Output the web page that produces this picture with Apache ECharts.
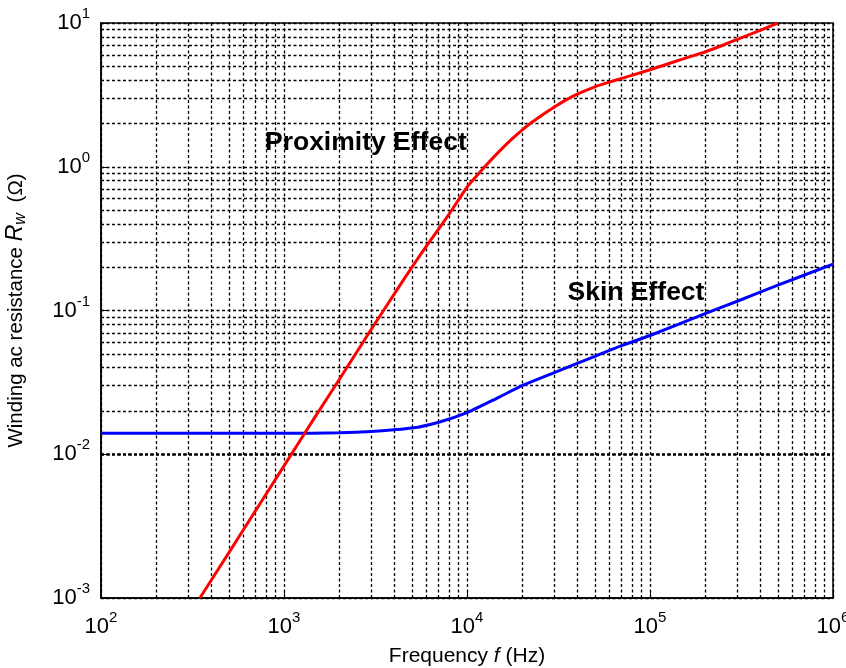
<!DOCTYPE html>
<html>
<head>
<meta charset="utf-8">
<script src="https://cdn.jsdelivr.net/npm/echarts@6/dist/echarts.min.js"></script>
<style>
html, body { margin: 0; padding: 0; background: #fff; }
#chart { width: 846px; height: 668px; }
</style>
</head>
<body>
<div id="chart"></div>
<script>
// frequency (Hz) and resistance (ohm)
var proxFreq = [347, 500, 700, 1000, 1500, 2000, 3000, 4000, 5000, 6000, 8000, 10000, 12500, 15000, 17500, 20000, 22500, 25000, 30000, 35000, 40000, 50000, 60000, 70000, 100000, 150000, 200000, 250000, 300000, 400000, 500000];
var proxR    = [0.001, 0.00207, 0.00406, 0.0083, 0.0187, 0.033, 0.074, 0.13, 0.2, 0.28, 0.47, 0.72, 1.0, 1.28, 1.55, 1.8, 2.03, 2.23, 2.6, 2.93, 3.2, 3.6, 3.88, 4.12, 4.73, 5.6, 6.3, 7.0, 7.7, 8.9, 10.0];

var skinFreq = [100, 1000, 2000, 3000, 5000, 7000, 10000, 15000, 20000, 30000, 50000, 70000, 100000, 200000, 300000, 500000, 1000000];
var skinR    = [0.014, 0.014, 0.0141, 0.0144, 0.0152, 0.0167, 0.0195, 0.025, 0.03, 0.037, 0.048, 0.057, 0.067, 0.095, 0.116, 0.15, 0.21];

var xDecades = [100, 1000, 10000, 100000];
var yDecades = [0.001, 0.01, 0.1, 1];
var minorMult = [2, 3, 4, 5, 6, 7, 8, 9];

function zip(a, b) {
    var out = [];
    for (var i = 0; i < a.length; i++) out.push([a[i], b[i]]);
    return out;
}

var gridLines = [];
for (var i = 0; i < xDecades.length; i++) {
    for (var j = 0; j < minorMult.length; j++) {
        gridLines.push({ xAxis: xDecades[i] * minorMult[j] });
    }
}
for (var i = 0; i < yDecades.length; i++) {
    for (var j = 0; j < minorMult.length; j++) {
        gridLines.push({ yAxis: yDecades[i] * minorMult[j] });
    }
}

function powLabel(v) {
    var n = Math.round(Math.log10(v));
    return '10{s|' + n + '}';
}

var labelRich = {
    s: { fontSize: 15, color: '#000', padding: [0, 0, 18, 0], fontFamily: 'Liberation Sans' }
};

var dotted = { color: '#000', width: 1.3, type: [3, 2.5] };

var myChart = echarts.init(document.getElementById('chart'));
var option = {
    animation: false,
    textStyle: { fontFamily: 'Liberation Sans' },
    grid: {
        left: 101, top: 23, right: 13, bottom: 70,
        outerBoundsMode: 'none', containLabel: false,
        show: true, borderColor: '#000', borderWidth: 1.5
    },
    xAxis: {
        type: 'log', logBase: 10, min: 100, max: 1000000,
        name: 'Frequency {i|f} (Hz)',
        nameLocation: 'middle', nameGap: 48,
        nameTextStyle: {
            fontSize: 21, color: '#000',
            rich: { i: { fontSize: 21, fontStyle: 'italic', color: '#000' } }
        },
        axisLine: { show: true, lineStyle: { color: '#000', width: 1.5 } },
        axisTick: { show: true, inside: true, length: 6, lineStyle: { color: '#000' } },
        splitLine: { show: true, lineStyle: dotted },
        axisLabel: {
            fontSize: 22, color: '#000', margin: 12,
            formatter: powLabel, rich: labelRich
        }
    },
    yAxis: {
        type: 'log', logBase: 10, min: 0.001, max: 10,
        name: 'Winding ac resistance {i|R}{w|w} (Ω)',
        nameLocation: 'middle', nameGap: 72,
        nameTextStyle: {
            fontSize: 20.5, color: '#000',
            rich: {
                i: { fontSize: 23, fontStyle: 'italic', color: '#000' },
                w: { fontSize: 16, fontStyle: 'italic', color: '#000', padding: [10, 5, 0, 0] }
            }
        },
        axisLine: { show: true, lineStyle: { color: '#000', width: 1.5 } },
        axisTick: { show: true, inside: true, length: 6, lineStyle: { color: '#000' } },
        splitLine: { show: true, lineStyle: dotted },
        axisLabel: {
            fontSize: 22, color: '#000', margin: 11,
            formatter: powLabel, rich: labelRich
        }
    },
    series: [
        {
            name: 'grid',
            type: 'line',
            data: [],
            silent: true,
            markLine: {
                silent: true,
                symbol: 'none',
                animation: false,
                label: { show: false },
                lineStyle: dotted,
                data: gridLines
            }
        },
        {
            name: 'Skin Effect',
            type: 'line',
            data: zip(skinFreq, skinR),
            smooth: 0.25,
            showSymbol: false,
            lineStyle: { color: '#0000ff', width: 3 },
            itemStyle: { color: '#0000ff' },
            z: 5,
            markPoint: {
                symbol: 'circle', symbolSize: 0,
                label: { show: true, position: 'inside', formatter: 'Skin Effect', fontSize: 26.5, fontWeight: 'bold', color: '#000' },
                data: [{ coord: [83800, 0.133] }]
            }
        },
        {
            name: 'Proximity Effect',
            type: 'line',
            data: zip(proxFreq, proxR),
            smooth: 0.2,
            showSymbol: false,
            lineStyle: { color: '#ff0000', width: 3 },
            itemStyle: { color: '#ff0000' },
            z: 6,
            markPoint: {
                symbol: 'circle', symbolSize: 0,
                label: { show: true, position: 'inside', formatter: 'Proximity Effect', fontSize: 26.5, fontWeight: 'bold', color: '#000' },
                data: [{ coord: [2800, 1.47] }]
            }
        }
    ]
};
myChart.setOption(option);
</script>
</body>
</html>
